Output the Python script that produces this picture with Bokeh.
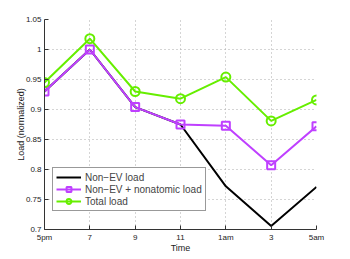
from bokeh.plotting import figure
from bokeh.models import FixedTicker, Range1d, Legend, LegendItem
from bokeh.embed import file_html
from bokeh.resources import INLINE

times = ["5pm", "7", "9", "11", "1am", "3", "5am"]
non_ev = [0.930, 1.000, 0.904, 0.875, 0.772, 0.706, 0.771]
non_ev_nonatomic = [0.930, 1.000, 0.904, 0.875, 0.873, 0.807, 0.872]
total = [0.945, 1.018, 0.930, 0.918, 0.954, 0.881, 0.916]
y_ticks = [0.7, 0.75, 0.8, 0.85, 0.9, 0.95, 1.0, 1.05]
y_tick_labels = ["0.7", "0.75", "0.8", "0.85", "0.9", "0.95", "1", "1.05"]

xs = list(range(len(times)))

FONT = "Liberation Sans"
purple = "#bf40ff"
green = "#66ee00"

p = figure(frame_width=272, frame_height=210, output_backend="svg", toolbar_location=None,
           x_range=Range1d(0, len(times) - 1), y_range=Range1d(0.7, 1.05),
           min_border_left=44, min_border_top=19, min_border_right=18, min_border_bottom=20)
p.outline_line_color = None
p.background_fill_color = "white"

r_black = p.line(xs, non_ev, line_color="black", line_width=2)
r_purple = p.line(xs, non_ev_nonatomic, line_color=purple, line_width=2)
s_purple = p.scatter(xs, non_ev_nonatomic, marker="square", size=8, fill_color=None,
                     line_color=purple, line_width=2)
r_green = p.line(xs, total, line_color=green, line_width=2)
s_green = p.scatter(xs, total, marker="circle", size=9, fill_color=None,
                    line_color=green, line_width=2)

p.xaxis.ticker = FixedTicker(ticks=xs)
p.xaxis.major_label_overrides = {i: t for i, t in enumerate(times)}
p.yaxis.ticker = FixedTicker(ticks=y_ticks)
p.yaxis.major_label_overrides = {v: l for v, l in zip(y_ticks, y_tick_labels)}

for ax in (p.xaxis[0], p.yaxis[0]):
    ax.major_tick_in = 4
    ax.major_tick_out = 0
    ax.minor_tick_line_color = None
    ax.axis_line_color = "#333333"
    ax.major_tick_line_color = "#333333"
    ax.major_label_text_font = FONT
    ax.major_label_text_font_size = "8px"
    ax.major_label_text_color = "#222222"
    ax.axis_label_text_font = FONT
    ax.axis_label_text_font_size = "9px"
    ax.axis_label_text_font_style = "normal"
    ax.axis_label_text_color = "#222222"

p.xaxis.axis_label = "Time"
p.yaxis.axis_label = "Load (normalized)"
p.xaxis.major_label_standoff = 3
p.xaxis.axis_label_standoff = -2
p.yaxis.major_label_standoff = 3
p.yaxis.axis_label_standoff = -3

p.xgrid.ticker = FixedTicker(ticks=xs)
p.ygrid.ticker = FixedTicker(ticks=y_ticks)
for g in (p.xgrid[0], p.ygrid[0]):
    g.grid_line_color = "#aaaaaa"
    g.grid_line_dash = "1 3"
    g.grid_line_width = 1

legend = Legend(items=[
    LegendItem(label="Non\u2212EV load", renderers=[r_black]),
    LegendItem(label="Non\u2212EV + nonatomic load", renderers=[r_purple, s_purple]),
    LegendItem(label="Total load", renderers=[r_green, s_green]),
], location=(8, 18))
legend.label_text_font = FONT
legend.label_text_font_size = "10px"
legend.label_height = 12
legend.glyph_height = 12
legend.glyph_width = 25
legend.spacing = 0
legend.padding = 3
legend.margin = 0
legend.label_standoff = 4
legend.border_line_color = "#333333"
legend.border_line_width = 1
legend.background_fill_alpha = 1
p.add_layout(legend, "center")

open("out.html", "w").write(file_html(p, INLINE))
